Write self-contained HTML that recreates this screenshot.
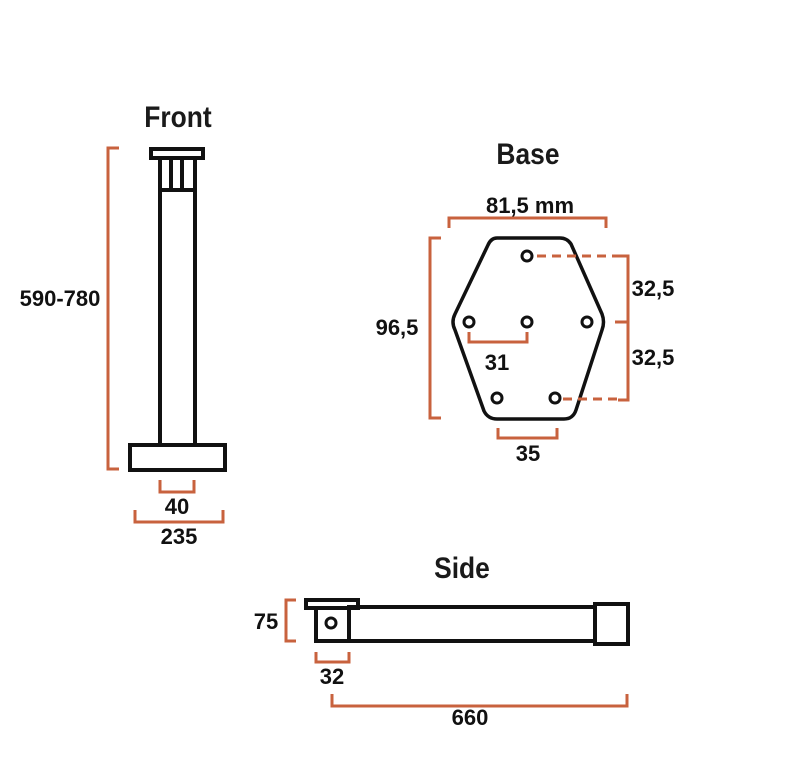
<!DOCTYPE html>
<html><head><meta charset="utf-8"><style>
html,body{margin:0;padding:0;background:#fff;}
svg{display:block;}
.t{font-family:"Liberation Sans",sans-serif;font-size:30px;font-weight:bold;fill:#1a1a1a;}
.d{font-family:"Liberation Sans",sans-serif;font-size:22px;font-weight:bold;fill:#111;}
</style></head><body>
<svg width="800" height="781" viewBox="0 0 800 781" xmlns="http://www.w3.org/2000/svg">
<g fill="none" stroke="#111" stroke-width="4">
 <!-- Front -->
 <rect x="151" y="149" width="52" height="9"/>
 <rect x="160" y="158" width="35" height="287"/>
 <line x1="171" y1="158" x2="171" y2="191"/>
 <line x1="182" y1="158" x2="182" y2="191"/>
 <line x1="160" y1="190" x2="195" y2="190"/>
 <rect x="130" y="445" width="95" height="25"/>
 <!-- Base -->
 <path d="M497,238 L560,238 Q567,238 571,244 L602,314 Q605,322 602,330 L576,410 Q573,419 564,419 L497,419 Q488,419 484,411 L455,330 Q451,322 455,314 L488,245 Q491,238 497,238 Z" stroke-linejoin="round" stroke-width="3.5"/>
 <g stroke-width="3">
  <circle cx="527" cy="256" r="5"/>
  <circle cx="469" cy="322" r="5"/>
  <circle cx="527" cy="322" r="5"/>
  <circle cx="587" cy="322" r="5"/>
  <circle cx="497" cy="398" r="5"/>
  <circle cx="555" cy="398" r="5"/>
 </g>
 <!-- Side -->
 <rect x="306" y="600" width="52" height="8"/>
 <rect x="316" y="608" width="33" height="33"/>
 <rect x="349" y="607" width="246" height="34"/>
 <rect x="595" y="604" width="33" height="40"/>
 <circle cx="331" cy="623" r="5" stroke-width="3"/>
</g>
<g fill="none" stroke="#c8623e" stroke-width="3">
 <path d="M119,148 H108 V469 H119"/>
 <path d="M160,480 V492 H194 V480"/>
 <path d="M135,510 V522 H223 V510"/>
 <path d="M449,228 V218 H606 V228"/>
 <path d="M441,238 H430 V418 H441"/>
 <path d="M618,256 H628 V400 H618 M628,322 H615"/>
 <path d="M537,256 H618 M563,399 H618" stroke-dasharray="9,6"/>
 <path d="M469,332 V342 H527 V332"/>
 <path d="M498,428 V438 H557 V428"/>
 <path d="M296,600 H286 V641 H296"/>
 <path d="M316,652 V662 H349 V652"/>
 <path d="M332,694 V706 H627 V694"/>
</g>
<text class="t" x="178" y="127" text-anchor="middle" transform="translate(178 0) scale(0.88 1) translate(-178 0)">Front</text>
<text class="t" x="528" y="164" text-anchor="middle" transform="translate(528 0) scale(0.88 1) translate(-528 0)">Base</text>
<text class="t" x="462" y="578" text-anchor="middle" transform="translate(462 0) scale(0.88 1) translate(-462 0)">Side</text>
<text class="d" x="60" y="306" text-anchor="middle">590-780</text>
<text class="d" x="177" y="514" text-anchor="middle">40</text>
<text class="d" x="179" y="544" text-anchor="middle">235</text>
<text class="d" x="530" y="213" text-anchor="middle">81,5 mm</text>
<text class="d" x="397" y="335" text-anchor="middle">96,5</text>
<text class="d" x="653" y="296" text-anchor="middle">32,5</text>
<text class="d" x="653" y="365" text-anchor="middle">32,5</text>
<text class="d" x="497" y="370" text-anchor="middle">31</text>
<text class="d" x="528" y="461" text-anchor="middle">35</text>
<text class="d" x="266" y="629" text-anchor="middle">75</text>
<text class="d" x="332" y="684" text-anchor="middle">32</text>
<text class="d" x="470" y="725" text-anchor="middle">660</text>
</svg>
</body></html>
